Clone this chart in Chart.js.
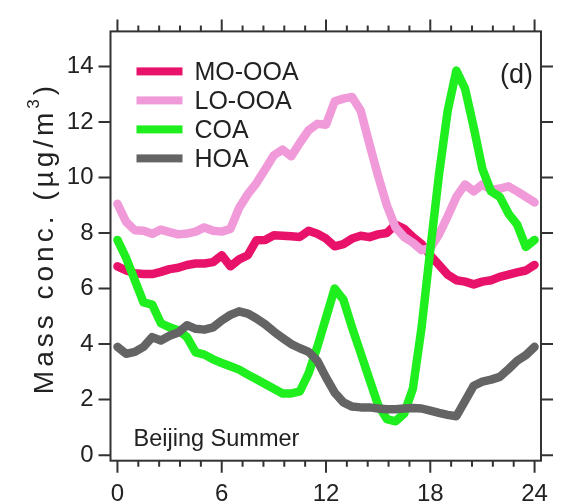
<!DOCTYPE html>
<html>
<head>
<meta charset="utf-8">
<title>Beijing Summer diurnal OA factors</title>
<script src="https://cdn.jsdelivr.net/npm/chart.js@4/dist/chart.umd.min.js"></script>
<style>
  html, body { margin: 0; padding: 0; background: #fff; }
  #wrap { width: 567px; height: 504px; }
</style>
</head>
<body>
<div id="wrap"><canvas id="chart" width="567" height="504"></canvas></div>
<script>
/* Diurnal cycles of OA factors, Beijing summer (panel d) */

const hours = [0, 0.5, 1, 1.5, 2, 2.5, 3, 3.5, 4, 4.5, 5, 5.5, 6, 6.5, 7, 7.5, 8, 8.5, 9, 9.5,
  10, 10.5, 11, 11.5, 12, 12.5, 13, 13.5, 14, 14.5, 15, 15.5, 16, 16.5, 17, 17.5, 18, 18.5, 19, 19.5,
  20, 20.5, 21, 21.5, 22, 22.5, 23, 23.5, 24];

const moOoa = [6.8, 6.65, 6.55, 6.52, 6.52, 6.6, 6.7, 6.75, 6.85, 6.9, 6.9, 6.95, 7.2, 6.8, 7.05, 7.2, 7.74, 7.75, 7.92, 7.9,
  7.88, 7.86, 8.08, 7.97, 7.8, 7.52, 7.6, 7.8, 7.9, 7.85, 7.95, 8.0, 8.3, 8.15, 7.85, 7.6, 7.2, 6.85, 6.5, 6.3,
  6.25, 6.15, 6.25, 6.3, 6.42, 6.5, 6.58, 6.65, 6.85];

const loOoa = [9.05, 8.4, 8.1, 8.08, 7.97, 8.12, 8.03, 7.95, 7.98, 8.05, 8.2, 8.08, 8.05, 8.15, 8.9, 9.4, 9.8, 10.3, 10.8, 11.0,
  10.76, 11.25, 11.7, 11.93, 11.9, 12.74, 12.84, 12.9, 12.4, 11.2, 10.05, 9.0, 8.2, 7.85, 7.65, 7.38, 7.45, 7.95, 8.6, 9.3,
  9.75, 9.5, 9.75, 9.55, 9.6, 9.68, 9.5, 9.3, 9.1];

const coa = [7.75, 7.1, 6.3, 5.5, 5.42, 4.75, 4.6, 4.5, 4.25, 3.7, 3.62, 3.45, 3.32, 3.2, 3.08, 2.9, 2.73, 2.56, 2.39, 2.22,
  2.22, 2.3, 2.95, 3.9, 4.95, 6.0, 5.6, 4.6, 3.67, 2.73, 1.8, 1.3, 1.22, 1.5, 2.4, 4.6, 7.4, 10.1, 12.4, 13.85,
  13.2, 11.8, 10.3, 9.5, 9.3, 8.7, 8.3, 7.5, 7.75];

const hoa = [3.9, 3.65, 3.72, 3.9, 4.25, 4.13, 4.3, 4.42, 4.68, 4.55, 4.52, 4.6, 4.85, 5.05, 5.18, 5.1, 4.92, 4.71, 4.45, 4.22,
  4.0, 3.85, 3.72, 3.4, 2.8, 2.25, 1.9, 1.75, 1.72, 1.72, 1.68, 1.65, 1.65, 1.68, 1.7, 1.68, 1.6, 1.52, 1.45, 1.4,
  1.95, 2.5, 2.65, 2.72, 2.82, 3.1, 3.4, 3.6, 3.9];

const seriesNames = ['MO-OOA', 'LO-OOA', 'COA', 'HOA'];
const xTickLabels = [0, 6, 12, 18, 24];
const xMinorTicks = [1.2, 2.4, 3.6, 4.8, 7.2, 8.4, 9.6, 10.8, 13.2, 14.4, 15.6, 16.8, 19.2, 20.4, 21.6, 22.8];
const yTickLabels = [0, 2, 4, 6, 8, 10, 12, 14];

const colors = ['#e8126b', '#f09ad9', '#1fee1f', '#646464'];
const FONT = '"Liberation Sans", Arial, sans-serif';
const INK = '#222';

function toPoints(vals) {
  return hours.map((h, i) => ({ x: h, y: vals[i] }));
}

const allSeries = [moOoa, loOoa, coa, hoa];
const datasets = allSeries.map((vals, i) => ({
  label: seriesNames[i],
  data: toPoints(vals),
  borderColor: colors[i],
  borderWidth: 8.5,
  pointRadius: 0,
  tension: 0,
  borderJoinStyle: 'round',
  borderCapStyle: 'round',
  order: 4 - i   // later series drawn on top, like the original
}));

/* rotated y title with a raised "3" */
function drawYTitle(ctx, cx, cy) {
  ctx.save();
  ctx.translate(cx, cy);
  ctx.rotate(-Math.PI / 2);
  ctx.fillStyle = INK;
  ctx.textAlign = 'left';
  ctx.textBaseline = 'alphabetic';
  ctx.letterSpacing = '4px';
  const big = '28px ' + FONT, small = '17px ' + FONT;
  ctx.font = big;
  const w1 = ctx.measureText('Mass conc. (µg/m').width;
  const w3 = ctx.measureText(')').width;
  ctx.font = small;
  const w2 = ctx.measureText('3').width;
  let pos = -(w1 + w2 + w3) / 2;
  const base = 10;   // puts the caps roughly centred on cx
  ctx.font = big;
  ctx.fillText('Mass conc. (µg/m', pos, base);
  pos += w1;
  ctx.font = small;
  ctx.fillText('3', pos, base - 14);
  pos += w2;
  ctx.font = big;
  ctx.fillText(')', pos, base);
  ctx.restore();
}

/* frame, outward tick marks, axis title, in-plot legend and labels */
const decorations = {
  id: 'decorations',
  afterDraw(chart) {
    const { ctx, chartArea: a, scales: { x, y } } = chart;
    ctx.save();
    ctx.strokeStyle = '#333';
    ctx.lineWidth = 2;
    ctx.strokeRect(a.left, a.top, a.right - a.left, a.bottom - a.top);

    ctx.beginPath();
    const tickX = (v, len) => {
      const px = x.getPixelForValue(v);
      ctx.moveTo(px, a.bottom); ctx.lineTo(px, a.bottom + len);
      ctx.moveTo(px, a.top); ctx.lineTo(px, a.top - len);
    };
    xTickLabels.forEach(v => tickX(v, 12));
    xMinorTicks.forEach(v => tickX(v, 6));
    yTickLabels.forEach(v => {
      const py = y.getPixelForValue(v);
      ctx.moveTo(a.left - 12, py); ctx.lineTo(a.left, py);
      ctx.moveTo(a.right, py); ctx.lineTo(a.right + 12, py);
    });
    ctx.stroke();

    drawYTitle(ctx, 43, 238);

    // legend
    ctx.font = '25px ' + FONT;
    ctx.textAlign = 'left';
    ctx.textBaseline = 'alphabetic';
    chart.data.datasets.forEach((ds, i) => {
      const rowY = a.top + 40 + i * 29;
      ctx.fillStyle = ds.borderColor;
      ctx.fillRect(a.left + 26, rowY - 4, 46, 8);
      ctx.fillStyle = INK;
      ctx.fillText(ds.label, a.left + 84, rowY + 9);
    });

    ctx.font = '27px ' + FONT;
    ctx.textAlign = 'center';
    ctx.fillText('(d)', a.left + 406, a.top + 52);

    ctx.font = '23.5px ' + FONT;
    ctx.textAlign = 'left';
    ctx.fillText('Beijing Summer', a.left + 23, a.top + 415);
    ctx.restore();
  }
};

const ctx = document.getElementById('chart').getContext('2d');
const chart = new Chart(ctx, {
  type: 'line',
  data: { datasets },
  options: {
    responsive: false,
    animation: false,
    layout: { padding: { left: 0, top: 19, right: 6, bottom: 0 } },
    plugins: {
      legend: { display: false },
      tooltip: { enabled: false }
    },
    scales: {
      x: {
        type: 'linear',
        min: -0.4,
        max: 24.37,
        afterBuildTicks: s => { s.ticks = xTickLabels.map(v => ({ value: v })); },
        afterFit: s => { s.height = 43.3; },
        grid: { display: false, drawTicks: false },
        border: { display: false },
        ticks: {
          padding: 19,
          autoSkip: false,
          maxRotation: 0,
          color: INK,
          font: { family: FONT, size: 24 }
        }
      },
      y: {
        min: -0.2,
        max: 15.26,
        afterBuildTicks: s => { s.ticks = yTickLabels.map(v => ({ value: v })); },
        afterFit: s => { s.width = 110.5; },
        grid: { display: false, drawTicks: false },
        border: { display: false },
        ticks: {
          padding: 17,
          color: INK,
          font: { family: FONT, size: 24 }
        }
      }
    }
  },
  plugins: [decorations]
});
</script>
</body>
</html>
